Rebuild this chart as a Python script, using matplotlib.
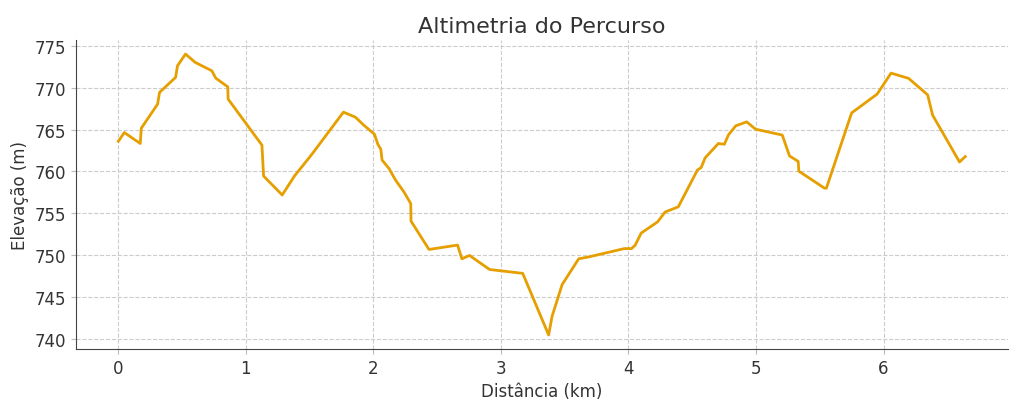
import matplotlib
matplotlib.use('Agg')
import matplotlib.pyplot as plt

# distance (km) and elevation (m) read from the profile
dist = [0.0, 0.047, 0.172, 0.18, 0.308, 0.323, 0.449, 0.464, 0.527, 0.603,
        0.733, 0.764, 0.858, 0.861, 1.126, 1.139, 1.285, 1.381, 1.515, 1.765,
        1.858, 1.92, 2.008, 2.035, 2.058, 2.068, 2.123, 2.173, 2.240, 2.293,
        2.295, 2.436, 2.660, 2.694, 2.754, 2.911, 3.171, 3.374, 3.401, 3.48,
        3.61, 3.693, 3.967, 4.024, 4.053, 4.100, 4.228, 4.287, 4.391, 4.541,
        4.570, 4.601, 4.705, 4.752, 4.784, 4.841, 4.927, 4.997, 5.206, 5.263,
        5.331, 5.336, 5.537, 5.552, 5.75, 5.95, 6.059, 6.197, 6.346, 6.385,
        6.596, 6.641]
elev = [763.6, 764.65, 763.34, 765.17, 768.05, 769.45, 771.25, 772.64, 774.04, 773.04,
        772.04, 771.16, 770.12, 768.65, 763.15, 759.45, 757.18, 759.45, 762.0, 767.09,
        766.5, 765.6, 764.45, 763.25, 762.65, 761.37, 760.34, 758.98, 757.54, 756.15,
        754.06, 750.67, 751.19, 749.55, 749.95, 748.27, 747.81, 740.44, 742.67, 746.47,
        749.55, 749.79, 750.77, 750.77, 751.19, 752.63, 753.96, 755.14, 755.77, 760.17,
        760.46, 761.62, 763.34, 763.25, 764.37, 765.45, 765.93, 765.05, 764.35, 761.85,
        761.2, 760.03, 758.0, 758.0, 767.0, 769.25, 771.76, 771.13, 769.16, 766.73,
        761.13, 761.78]

txt = '#333333'
fig = plt.figure(figsize=(10.24, 4.10), dpi=100)
ax = fig.add_axes([0.0742, 0.1463, 0.9098, 0.7537])
ax.plot(dist, elev, color='#E69F00', linewidth=2)

ax.set_title('Altimetria do Percurso', fontsize=16, color=txt)
ax.set_xlabel('Distância (km)', fontsize=12, color=txt)
ax.set_ylabel('Elevação (m)', fontsize=12, color=txt)
ax.tick_params(labelsize=12, labelcolor=txt, color='#bbbbbb')
ax.grid(True, linestyle='--', color='#cccccc', linewidth=0.8)
ax.spines['top'].set_visible(False)
ax.spines['right'].set_visible(False)
ax.spines['left'].set_color('#444444')
ax.spines['bottom'].set_color('#444444')

plt.savefig('out.png')
plt.close()
